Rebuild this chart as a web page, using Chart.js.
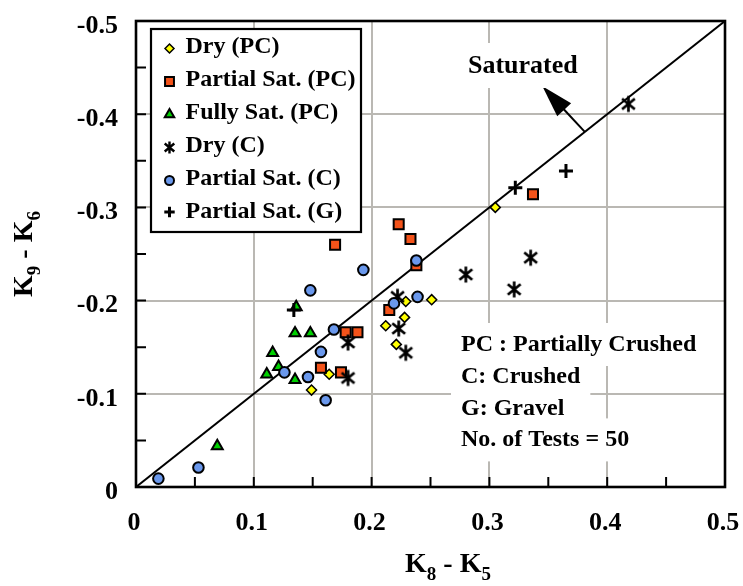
<!DOCTYPE html>
<html>
<head>
<meta charset="utf-8">
<script src="https://cdn.jsdelivr.net/npm/chart.js@4"></script>
<style>
  html, body { margin: 0; padding: 0; background: #fff; }
  canvas { display: block; }
</style>
</head>
<body>
<canvas id="chart" width="743" height="586"></canvas>
<script>
// ---- data -------------------------------------------------------------
const xTickLabels = ['0', '0.1', '0.2', '0.3', '0.4', '0.5'];
const yTickLabels = ['0', '-0.1', '-0.2', '-0.3', '-0.4', '-0.5'];

const seriesNames = ['Dry (PC)', 'Partial Sat. (PC)', 'Fully Sat. (PC)',
                     'Dry (C)', 'Partial Sat. (C)', 'Partial Sat. (G)'];

// [K8 - K5, K9 - K6]
const dryPC = [[0.305, -0.300], [0.251, -0.201], [0.229, -0.199], [0.228, -0.182],
               [0.212, -0.173], [0.221, -0.153], [0.164, -0.121], [0.149, -0.104]];
const partialPC = [[0.337, -0.314], [0.223, -0.282], [0.233, -0.266], [0.169, -0.260],
                   [0.238, -0.238], [0.215, -0.190], [0.178, -0.166], [0.188, -0.166],
                   [0.157, -0.128], [0.174, -0.123]];
const fullyPC = [[0.136, -0.193], [0.135, -0.165], [0.148, -0.165], [0.116, -0.144],
                 [0.121, -0.129], [0.111, -0.121], [0.135, -0.115], [0.069, -0.044]];
const dryC = [[0.418, -0.411], [0.335, -0.246], [0.280, -0.228], [0.321, -0.212],
              [0.222, -0.204], [0.223, -0.170], [0.180, -0.155], [0.229, -0.144],
              [0.180, -0.117]];
const partialC = [[0.238, -0.243], [0.193, -0.233], [0.148, -0.211], [0.219, -0.197],
                  [0.239, -0.204], [0.168, -0.169], [0.157, -0.145], [0.126, -0.123],
                  [0.146, -0.118], [0.161, -0.093], [0.053, -0.021], [0.019, -0.009]];
const partialG = [[0.365, -0.339], [0.322, -0.321], [0.134, -0.190]];

// 1:1 line (saturation boundary)
const equalityLine = [[0, 0], [0.5, -0.5]];
const lineLabel = 'Saturated';
const arrowFrom = [0.381, -0.381];
const arrowTo = [0.345, -0.430];

const notes = ['PC : Partially Crushed', 'C: Crushed', 'G: Gravel', 'No. of Tests = 50'];
const xTitleParts = [['K', 0], ['8', 1], [' - K', 0], ['5', 1]];
const yTitleParts = [['K', 0], ['9', 1], [' - K', 0], ['6', 1]];

// ---- styling ------------------------------------------------------------
const SERIF = "'Liberation Serif', 'Times New Roman', serif";
const GRID = '#bab8b3';

function makeAsterisk(s, lw) {
  const c = document.createElement('canvas');
  const size = Math.ceil(2 * s + lw + 2);
  c.width = c.height = size;
  const g = c.getContext('2d');
  g.translate(size / 2, size / 2);
  g.strokeStyle = '#000';
  g.lineWidth = lw;
  g.beginPath();
  g.moveTo(0, -s); g.lineTo(0, s);
  g.moveTo(-0.8 * s, -0.66 * s); g.lineTo(0.8 * s, 0.66 * s);
  g.moveTo(0.8 * s, -0.66 * s); g.lineTo(-0.8 * s, 0.66 * s);
  g.stroke();
  return c;
}
const asteriskBig = makeAsterisk(8, 2.7);
const asteriskSmall = makeAsterisk(6, 2.4);

const pts = a => a.map(([x, y]) => ({ x, y }));

const seriesStyles = [
  { pointStyle: 'rectRot', pointRadius: 5, backgroundColor: '#ffff00', borderWidth: 1.5, legendRadius: 4.5 },
  { pointStyle: 'rect', pointRadius: 7.1, backgroundColor: '#f4531a', borderWidth: 2, legendRadius: 6.3 },
  { pointStyle: 'triangle', pointRadius: 6.3, backgroundColor: '#00d000', borderWidth: 2, legendRadius: 5.5 },
  { pointStyle: asteriskBig, pointRadius: 8, backgroundColor: '#000', borderWidth: 0, legendStyle: asteriskSmall, legendRadius: 6 },
  { pointStyle: 'circle', pointRadius: 5.3, backgroundColor: '#6a98ec', borderWidth: 2, legendRadius: 4.5 },
  { pointStyle: 'cross', pointRadius: 7, backgroundColor: '#000', borderWidth: 3, legendRadius: 5.2 }
];
const seriesData = [dryPC, partialPC, fullyPC, dryC, partialC, partialG];

const datasets = seriesData.map((d, i) => ({
  label: seriesNames[i],
  data: pts(d),
  pointStyle: seriesStyles[i].pointStyle,
  pointRadius: seriesStyles[i].pointRadius,
  pointHoverRadius: seriesStyles[i].pointRadius,
  backgroundColor: seriesStyles[i].backgroundColor,
  borderColor: '#000',
  borderWidth: seriesStyles[i].borderWidth,
  order: 10 - i
}));
datasets.push({
  label: 'equality',
  data: pts(equalityLine),
  showLine: true,
  borderColor: '#000',
  borderWidth: 2,
  pointRadius: 0,
  pointHoverRadius: 0,
  order: 100
});

function gridColor(v, end) {
  const a = Math.abs(v);
  return (a < 1e-9 || Math.abs(a - end) < 1e-9) ? 'rgba(0,0,0,0)' : GRID;
}

function drawTitle(ctx, parts, cx, cy, rot) {
  const big = 'bold 28px ' + SERIF, small = 'bold 19px ' + SERIF;
  ctx.save();
  ctx.translate(cx, cy);
  ctx.rotate(rot);
  ctx.fillStyle = '#000';
  ctx.textAlign = 'left';
  ctx.textBaseline = 'alphabetic';
  let total = 0;
  const widths = parts.map(([t, sub]) => {
    ctx.font = sub ? small : big;
    const w = ctx.measureText(t).width;
    total += w;
    return w;
  });
  let xx = -total / 2;
  parts.forEach(([t, sub], i) => {
    ctx.font = sub ? small : big;
    ctx.fillText(t, xx, sub ? 8 : 0);
    xx += widths[i];
  });
  ctx.restore();
}

const decorations = {
  id: 'decorations',
  afterDatasetsDraw(chart) {
    const { ctx, chartArea: a, scales: { x, y } } = chart;
    const H = Chart.helpers;
    ctx.save();

    // inward tick marks, major and half-step
    ctx.strokeStyle = '#000';
    ctx.lineWidth = 2;
    const xs = x.ticks.map(t => t.value);
    const ys = y.ticks.map(t => t.value);
    const withHalves = v => {
      const out = [];
      v.forEach((t, i) => { out.push(t); if (i < v.length - 1) out.push((t + v[i + 1]) / 2); });
      return out;
    };
    ctx.beginPath();
    withHalves(xs).forEach(v => {
      const px = x.getPixelForValue(v);
      ctx.moveTo(px, a.bottom); ctx.lineTo(px, a.bottom - 10);
    });
    withHalves(ys).forEach(v => {
      const py = y.getPixelForValue(v);
      ctx.moveTo(a.left, py); ctx.lineTo(a.left + 10, py);
    });
    ctx.stroke();

    // arrow pointing to the saturated side of the line
    const x0 = x.getPixelForValue(arrowFrom[0]), y0 = y.getPixelForValue(arrowFrom[1]);
    const x1 = x.getPixelForValue(arrowTo[0]), y1 = y.getPixelForValue(arrowTo[1]);
    const len = Math.hypot(x1 - x0, y1 - y0);
    const ux = (x1 - x0) / len, uy = (y1 - y0) / len;
    const headL = 32, headW = 9.5;
    const bx = x1 - ux * headL, by = y1 - uy * headL;
    ctx.lineWidth = 2;
    ctx.beginPath();
    ctx.moveTo(x0, y0); ctx.lineTo(bx + ux * 2, by + uy * 2);
    ctx.stroke();
    ctx.fillStyle = '#000';
    ctx.beginPath();
    ctx.moveTo(x1, y1);
    ctx.lineTo(bx - uy * headW, by + ux * headW);
    ctx.lineTo(bx + uy * headW, by - ux * headW);
    ctx.closePath();
    ctx.fill();

    // text with white backing
    const textFont = 'bold 24px ' + SERIF;
    ctx.textAlign = 'left';
    ctx.textBaseline = 'alphabetic';
    const satX = a.left + 332, satY = a.top + 52;
    ctx.font = 'bold 26px ' + SERIF;
    const sw = ctx.measureText(lineLabel).width;
    ctx.fillStyle = '#fff';
    ctx.fillRect(satX - 10, satY - 30, sw + 20, 45);
    ctx.fillStyle = '#000';
    ctx.fillText(lineLabel, satX, satY);

    ctx.font = textFont;
    const nx = a.left + 325, nBase = a.top + 330, nStep = 31.8;
    ctx.fillStyle = '#fff';
    notes.forEach((t, i) => {
      const w = ctx.measureText(t).width;
      ctx.fillRect(nx - 10, nBase + i * nStep - 28, w + 20, 43);
    });
    ctx.fillStyle = '#000';
    notes.forEach((t, i) => ctx.fillText(t, nx, nBase + i * nStep));

    // legend box
    const lx = a.left + 15, ly = a.top + 8, lw = 210, lh = 203;
    ctx.fillStyle = '#fff';
    ctx.fillRect(lx, ly, lw, lh);
    ctx.strokeStyle = '#000';
    ctx.lineWidth = 2.2;
    ctx.strokeRect(lx, ly, lw, lh);
    seriesNames.forEach((name, i) => {
      const st = seriesStyles[i];
      const base = ly + 23.5 + i * 33;
      const mx = lx + 18.5, my = base - (st.pointStyle === 'cross' ? 5.5 : 4);
      ctx.fillStyle = st.backgroundColor;
      ctx.strokeStyle = '#000';
      ctx.lineWidth = st.borderWidth;
      H.drawPoint(ctx, {
        pointStyle: st.legendStyle || st.pointStyle,
        radius: st.legendRadius,
        rotation: 0,
        borderWidth: st.borderWidth
      }, mx, my);
      ctx.fillStyle = '#000';
      ctx.font = textFont;
      ctx.fillText(name, lx + 34.5, base);
    });

    // plot frame
    ctx.strokeStyle = '#000';
    ctx.lineWidth = 2.6;
    ctx.strokeRect(a.left, a.top, a.right - a.left, a.bottom - a.top);
    ctx.restore();

    // axis titles
    drawTitle(ctx, xTitleParts, 448, 572, 0);
    drawTitle(ctx, yTitleParts, 31.7, (a.top + a.bottom) / 2, -Math.PI / 2);
  }
};

const tickFont = { family: SERIF, size: 26, weight: 'bold' };

new Chart(document.getElementById('chart'), {
  type: 'scatter',
  data: { datasets },
  options: {
    responsive: false,
    animation: false,
    devicePixelRatio: 1,
    layout: { padding: { top: 21, right: 18, left: 0, bottom: 0 } },
    plugins: { legend: { display: false }, tooltip: { enabled: false } },
    events: [],
    scales: {
      x: {
        type: 'linear', min: 0, max: 0.5,
        ticks: {
          stepSize: 0.1, autoSkip: false, maxRotation: 0,
          callback: v => xTickLabels[Math.round(v * 10)],
          font: tickFont, color: '#000', padding: 21, labelOffset: -2
        },
        grid: { color: c => gridColor(c.tick.value, 0.5), lineWidth: 2, drawTicks: false },
        border: { display: false },
        afterFit: s => { s.height = 99; s.paddingLeft = 0; s.paddingRight = 0; }
      },
      y: {
        type: 'linear', min: -0.5, max: 0, reverse: true,
        ticks: {
          stepSize: 0.1, autoSkip: false,
          callback: v => yTickLabels[Math.round(-v * 10)],
          font: tickFont, color: '#000', padding: 18, labelOffset: 5
        },
        grid: { color: c => gridColor(c.tick.value, 0.5), lineWidth: 2, drawTicks: false },
        border: { display: false },
        afterFit: s => { s.width = 136; s.paddingTop = 0; s.paddingBottom = 0; }
      }
    }
  },
  plugins: [decorations]
});
</script>
</body>
</html>
